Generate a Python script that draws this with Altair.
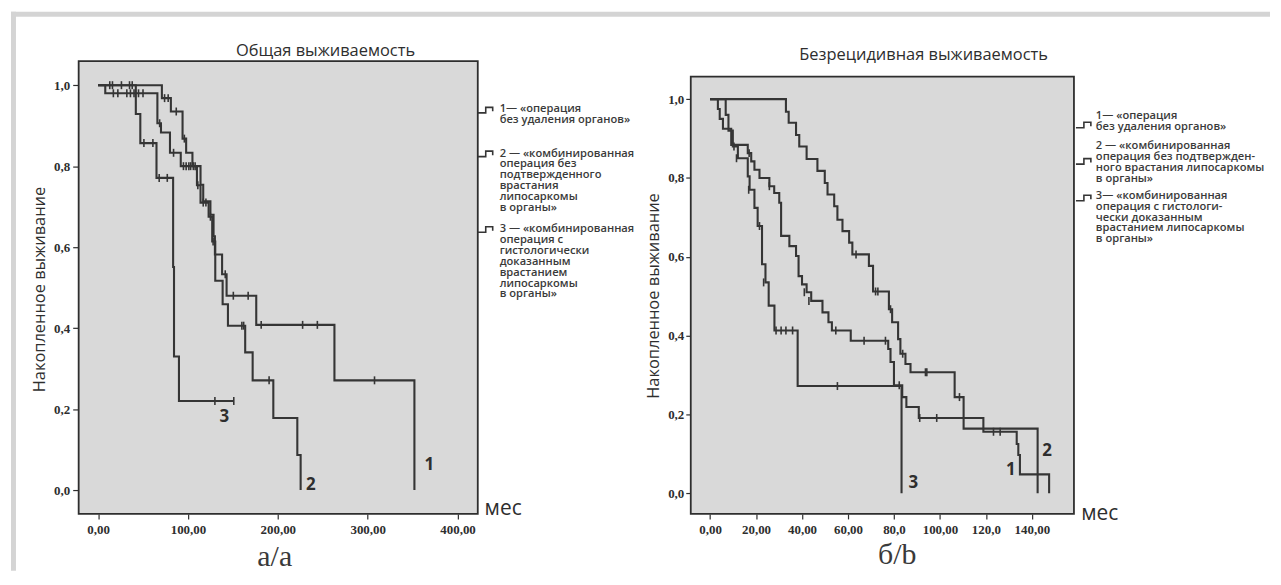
import json
import altair as alt
import pandas as pd

# ---------------- panel а: Общая выживаемость ----------------
a_g1_t = [0, 71, 81, 94, 98, 105, 114, 117, 125, 128.5, 130, 138, 143, 176, 263, 352]
a_g1_s = [1.0, 0.968, 0.935, 0.868, 0.833, 0.80, 0.754, 0.713, 0.68, 0.627, 0.582, 0.533, 0.48, 0.408, 0.271, 0.0]
a_g1_ct = [13, 16, 26, 35, 38, 74, 78, 87, 96, 101, 108, 141.5, 150.5, 167, 181.5, 227.6, 244, 307.6]
a_g1_cs = [1, 1, 1, 1, 1, 0.968, 0.968, 0.935, 0.868, 0.80, 0.80, 0.533, 0.48, 0.48, 0.408, 0.408, 0.408, 0.271]

a_g2_t = [0, 8, 66, 70, 80, 92, 110, 114, 123, 127, 130.4, 138.6, 144.5, 163.7, 172, 195, 221.7, 225.4]
a_g2_s = [1.0, 0.98, 0.906, 0.883, 0.833, 0.80, 0.753, 0.71, 0.675, 0.614, 0.517, 0.459, 0.406, 0.34, 0.271, 0.178, 0.0865, 0.0]
a_g2_ct = [17, 22, 32, 36, 40, 45, 50, 68.5, 84, 95, 98, 103, 106, 111, 117, 120, 125, 128, 160, 162, 190.3]
a_g2_cs = [0.98, 0.98, 0.98, 0.98, 0.98, 0.98, 0.98, 0.906, 0.833, 0.80, 0.80, 0.80, 0.80, 0.753,
           0.71, 0.71, 0.675, 0.614, 0.406, 0.406, 0.271]

a_g3_t = [0, 42, 47, 65, 83.5, 84.5, 90, 151]
a_g3_s = [1.0, 0.929, 0.857, 0.771, 0.551, 0.33, 0.22, 0.22]
a_g3_ct = [51, 61, 68, 77, 130, 151]
a_g3_cs = [0.857, 0.857, 0.771, 0.771, 0.22, 0.22]

a_lab_text = ["1", "2", "3"]
a_lab_x = [368.6, 236.8, 140.5]
a_lab_y = [0.062, 0.013, 0.181]

a_xticks = [0, 100, 200, 300, 400]
a_xlabels = ["0,00", "100,00", "200,00", "300,00", "400,00"]

a_title = "Общая выживаемость"
a_legend = [
    "1— «операция\nбез удаления органов»",
    "2 — «комбинированная\nоперация без\nподтвержденного\nврастания\nлипосаркомы\nв органы»",
    "3 — «комбинированная\nоперация с\nгистологически\nдоказанным\nврастанием\nлипосаркомы\nв органы»",
]

# ---------------- panel б: Безрецидивная выживаемость ----------------
b_g1_t = [0, 33, 34.2, 37.4, 38.8, 42, 46.7, 49.9, 51.1, 54, 55.4, 57.6, 60.5, 61.9, 69.1, 70.9,
          77.8, 79.2, 81.8, 82.8, 85, 87.2, 106.4, 110.3, 142.5]
b_g1_s = [1.0, 0.968, 0.94, 0.909, 0.88, 0.848, 0.818, 0.787, 0.758, 0.728, 0.694, 0.665, 0.636, 0.606,
          0.577, 0.512, 0.467, 0.434, 0.391, 0.354, 0.328, 0.307, 0.244, 0.164, 0.0]
b_g1_ct = [63.5, 72, 73, 78.5, 83.8, 93.7, 94.3, 108.5]
b_g1_cs = [0.606, 0.512, 0.512, 0.467, 0.354, 0.307, 0.307, 0.244]

b_g2_t = [0, 3.4, 4.2, 5.6, 9.2, 16.4, 17.9, 19.3, 21.5, 25.8, 27.9, 30.1, 30.9, 34.5, 37.4, 38.5, 40,
          42, 44, 48.9, 51.5, 53, 61.2, 77.5, 78.5, 80, 83.6, 85.4, 90.8, 118.9, 133.4, 134.1, 134.8, 147.5]
b_g2_s = [1.0, 0.975, 0.95, 0.925, 0.884, 0.863, 0.842, 0.821, 0.80, 0.779, 0.762, 0.737, 0.653, 0.627,
          0.602, 0.551, 0.53, 0.51, 0.488, 0.459, 0.434, 0.413, 0.387, 0.366, 0.333, 0.274, 0.244, 0.219,
          0.191, 0.156, 0.125, 0.097, 0.048, 0.0]
b_g2_ct = [17, 25.8, 41, 43, 54.7, 67, 76.3, 82.3, 91.2, 98.6, 123.3, 126.2]
b_g2_cs = [0.863, 0.779, 0.51, 0.488, 0.413, 0.387, 0.387, 0.274, 0.191, 0.191, 0.156, 0.156]

b_g3_t = [0, 6.8, 8, 9.9, 12.1, 16.4, 17.2, 19.3, 20.7, 22.6, 24.1, 25.5, 28.0, 38.1, 83.3]
b_g3_s = [1.0, 0.96, 0.92, 0.88, 0.85, 0.804, 0.77, 0.724, 0.678, 0.581, 0.535, 0.476, 0.413, 0.272, 0.0]
b_g3_ct = [10.4, 11.5, 16.8, 21.5, 23.3, 28.7, 30.9, 33.0, 35.9, 55.4]
b_g3_cs = [0.88, 0.85, 0.77, 0.678, 0.535, 0.413, 0.413, 0.413, 0.413, 0.272]

b_lab_text = ["1", "2", "3"]
b_lab_x = [130.8, 146.6, 88.4]
b_lab_y = [0.06, 0.106, 0.025]

b_xticks = [0, 20, 40, 60, 80, 100, 120, 140]
b_xlabels = ["0,00", "20,00", "40,00", "60,00", "80,0", "100,00", "120,0", "140,00"]

b_title = "Безрецидивная выживаемость"
b_legend = [
    "1— «операция\nбез удаления органов»",
    "2 — «комбинированная\nоперация без подтвержден-\nного врастания липосаркомы\nв органы»",
    "3— «комбинированная\nоперация с гистологи-\nчески доказанным\nврастанием липосаркомы\nв органы»",
]

y_ticks = [0.0, 0.2, 0.4, 0.6, 0.8, 1.0]
y_labels = ["0,0", "0,2", "0,4", "0,6", "0,8", "1,0"]
y_title = "Накопленное выживание"

# ---------------- styling ----------------
INK = "#2e2e2e"
LINE = "#353535"
BG = "#d9d9d9"
BAND = "#d4d4d4"
SANS = "Open Sans"
SERIF = "Liberation Serif"
SYM = "M-8,3.5L0,3.5L0,-2L7,-2L7,2"
TICKMARK = "M0,-1L0,1"


def label_expr(values, labels):
    return f"{json.dumps(labels)}[indexof({json.dumps(values)}, datum.value)]"


def one(text):
    return pd.DataFrame({"t": [text]})


def txt(text, x, y, **kw):
    return alt.Chart(one(text)).mark_text(**kw).encode(
        x=alt.value(x), y=alt.value(y), text="t:N")


def panel(curves, cens, labs, xdom, ydom, frame_top, xt, xl, ytick, ypad,
          W, H, title, title_xy, ytitle_xy, mes_xy, sub, sub_xy,
          legend, leg_x, leg_tops, sym_x, sym_ys, extra=()):
    xs = alt.Scale(domain=xdom, nice=False, zero=False)
    ys = alt.Scale(domain=ydom, nice=False, zero=False)
    xax = alt.Axis(values=xt, labelExpr=label_expr(xt, xl), title=None, grid=False, domain=False,
                   tickSize=5, tickWidth=1.2, tickColor=INK, labelFont=SERIF, labelFontSize=13,
                   labelFontWeight="bold", labelColor=INK, labelPadding=5, labelOverlap=False,
                   labelFlush=False)
    yax = alt.Axis(values=y_ticks, labelExpr=label_expr(y_ticks, y_labels), title=None, grid=False,
                   domain=False, tickSize=ytick, tickWidth=1.2, tickColor=INK, labelFont=SERIF,
                   labelFontSize=13, labelFontWeight="bold", labelColor=INK, labelPadding=ypad,
                   labelOverlap=False, labelFlush=False)

    frame = alt.Chart(pd.DataFrame({"x1": [xdom[0]], "x2": [xdom[1]],
                                    "y1": [frame_top], "y2": [ydom[0]]})).mark_rect(
        fill=BG, stroke=INK, strokeWidth=1.8).encode(
        x=alt.X("x1:Q", scale=xs, axis=xax), x2="x2:Q",
        y=alt.Y("y1:Q", scale=ys, axis=yax), y2="y2:Q")

    cdf = pd.concat([pd.DataFrame({"t": t, "s": s, "g": g}) for g, (t, s) in enumerate(curves)])
    lines = alt.Chart(cdf).mark_line(interpolate="step-after", color=LINE, strokeWidth=2.1).encode(
        x=alt.X("t:Q", scale=xs, axis=xax), y=alt.Y("s:Q", scale=ys, axis=yax), detail="g:N")

    kdf = pd.concat([pd.DataFrame({"t": t, "s": s}) for t, s in cens])
    ticks = alt.Chart(kdf).mark_point(shape=TICKMARK, size=64, filled=False, strokeWidth=1.6,
                                      color=LINE, opacity=1).encode(
        x=alt.X("t:Q", scale=xs, axis=xax), y=alt.Y("s:Q", scale=ys, axis=yax))

    ldf = pd.DataFrame({"lab": labs[0], "x": labs[1], "y": labs[2]})
    numlab = alt.Chart(ldf).mark_text(font=SANS, fontSize=17, fontWeight="bold", color=INK).encode(
        x=alt.X("x:Q", scale=xs, axis=xax), y=alt.Y("y:Q", scale=ys, axis=yax), text="lab:N")

    layers = [frame, lines, ticks, numlab,
              txt(title, title_xy[0], title_xy[1], font=SANS, fontSize=16.5, color=INK,
                  align="center", baseline="middle"),
              txt(y_title, ytitle_xy[0], ytitle_xy[1], font=SANS, fontSize=16.5, color=INK,
                  align="center", baseline="middle", angle=270),
              txt("мес", mes_xy[0], mes_xy[1], font=SANS, fontSize=21, color=INK,
                  align="center", baseline="middle"),
              txt(sub, sub_xy[0], sub_xy[1], font=SERIF, fontSize=30, color="#3a3a3a",
                  align="center", baseline="middle")]
    for text, top in zip(legend, leg_tops):
        layers.append(txt(text, leg_x, top, font=SANS, fontSize=11.2, fontWeight=600, color="#3a3a3a",
                          align="left", baseline="top", lineBreak="\n", lineHeight=10.9))
    for sy in sym_ys:
        layers.append(alt.Chart(one("")).mark_point(shape=SYM, size=4, filled=False, strokeWidth=1.6,
                                                    color=LINE, opacity=1).encode(
            x=alt.value(sym_x), y=alt.value(sy)))
    layers.extend(extra)
    return alt.layer(*layers).properties(width=W, height=H)


band_top = alt.Chart(one("")).mark_rule(color=BAND, strokeWidth=5).encode(
    x=alt.value(-68), x2=alt.value(1197), y=alt.value(-47), y2=alt.value(-47))
band_left = alt.Chart(one("")).mark_rule(color=BAND, strokeWidth=5).encode(
    x=alt.value(-65.5), x2=alt.value(-65.5), y=alt.value(-49.5), y2=alt.value(512))

left = panel(
    curves=[(a_g1_t, a_g1_s), (a_g2_t, a_g2_s), (a_g3_t, a_g3_s)],
    cens=[(a_g1_ct, a_g1_cs), (a_g2_ct, a_g2_cs), (a_g3_ct, a_g3_cs)],
    labs=(a_lab_text, a_lab_x, a_lab_y),
    xdom=[-21.6, 422.5], ydom=[-0.059, 1.0595], frame_top=1.0595,
    xt=a_xticks, xl=a_xlabels, ytick=6, ypad=3, W=401, H=455,
    title=a_title, title_xy=(248, -10), ytitle_xy=(-38.5, 229.5), mes_xy=(426.5, 450),
    sub="а/а", sub_xy=(197, 498.5),
    legend=a_legend, leg_x=423, leg_tops=[42.5, 87, 163], sym_x=409, sym_ys=[48.5, 92.5, 168.5],
    extra=[band_top, band_left])

right = panel(
    curves=[(b_g1_t, b_g1_s), (b_g2_t, b_g2_s), (b_g3_t, b_g3_s)],
    cens=[(b_g1_ct, b_g1_cs), (b_g2_ct, b_g2_cs), (b_g3_ct, b_g3_cs)],
    labs=(b_lab_text, b_lab_x, b_lab_y),
    xdom=[-8.4, 158.3], ydom=[-0.0525, 1.0965], frame_top=1.0573,
    xt=b_xticks, xl=b_xlabels, ytick=5, ypad=2, W=385, H=455,
    title=b_title, title_xy=(234, -6.5), ytitle_xy=(-37, 236), mes_xy=(411, 455),
    sub="б/b", sub_xy=(207.5, 496.5),
    legend=b_legend, leg_x=407, leg_tops=[49.5, 79.5, 129.5], sym_x=395, sym_ys=[63.5, 100, 136.8])

chart = alt.hconcat(left, right, spacing=214, bounds="flush").properties(
    padding=0, background="white").configure_view(stroke=None)

chart.save("out.html", embed_options={"renderer": "svg", "actions": False})
